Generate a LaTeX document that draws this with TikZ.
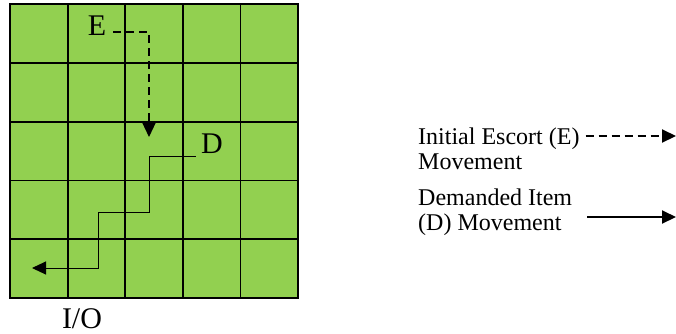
\documentclass[tikz,border=0pt]{standalone}
\usepackage{fontspec}
\setmainfont{Liberation Serif}
\usetikzlibrary{arrows.meta, positioning}
\definecolor{cellGreen}{RGB}{146,208,80}
\definecolor{darkText}{RGB}{0,0,0}
\tikzset{
    gridline/.style={draw=darkText, line width=1.8pt},
    lbl/.style={font=\fontsize{30}{30}\selectfont, text=darkText, inner sep=0pt},
    legtext/.style={font=\fontsize{24}{25}\selectfont, align=left, text=darkText, inner sep=0pt},
    flow/.style={-{Triangle[length=14pt, width=13pt]}, line width=1.2pt, draw=darkText},
    dflow/.style={flow, dash pattern=on 8pt off 5pt}
}

\begin{document}
\begin{tikzpicture}[x=1pt, y=-1pt]
    \useasboundingbox (0,0) rectangle (676,333);

    % storage grid, 5 x 5 cells
    \fill[cellGreen] (10,4) rectangle (298,298);
    \foreach \i in {1,...,4} {
        \draw[gridline] ({10+57.6*\i},4) -- ({10+57.6*\i},298);
        \draw[gridline] (10,{4+58.8*\i}) -- (298,{4+58.8*\i});
    }
    \draw[gridline] (10,4) rectangle (298,298);

    \node[lbl, anchor=base] (escort) at (97,35) {E};
    \node[lbl, anchor=base] (item) at (212,153) {D};
    \node[lbl, anchor=base] (io) at (82,328) {I/O};

    \coordinate (escortTurn) at (149,32);
    \coordinate (escortStop) at (149,137);
    \coordinate (ioTip) at (32,268);

    \draw[dflow] ([xshift=7pt]escort.east |- escortTurn) -- (escortTurn) -- (escortStop);
    \draw[flow, line width=1pt] ([xshift=-5pt, yshift=-3pt]item.base west) -| (149,212) -| (98,268) -- (ioTip);

    % legend
    \node[legtext, anchor=north west] (legEscort) at (418,128) {Initial Escort (E)\\Movement};
    \node[legtext, anchor=north west] (legItem) at (418,189) {Demanded Item\\(D) Movement};
    \coordinate (legEscortTip) at (676,136);
    \coordinate (legItemTip) at (676,217);

    \draw[dflow, line width=2pt] ([xshift=6pt]legEscort.east |- legEscortTip) -- (legEscortTip);
    \draw[flow, line width=2pt] ([xshift=15pt]legItem.east |- legItemTip) -- (legItemTip);
\end{tikzpicture}
\end{document}
